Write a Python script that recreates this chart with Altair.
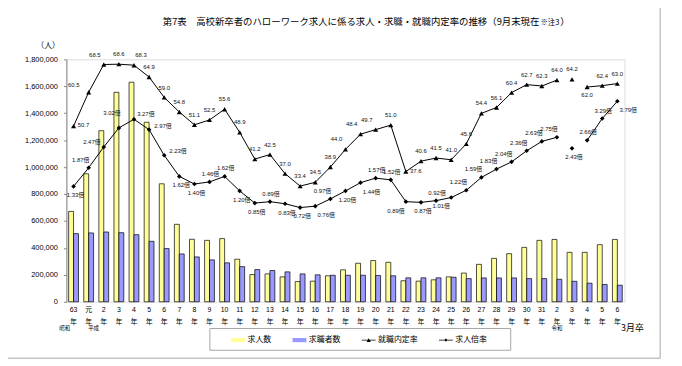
import altair as alt
import pandas as pd

# ---------------- data ----------------
eras = ["昭和", "平成", "平成", "平成", "平成", "平成", "平成", "平成", "平成", "平成",
        "平成", "平成", "平成", "平成", "平成", "平成", "平成", "平成", "平成", "平成",
        "平成", "平成", "平成", "平成", "平成", "平成", "平成", "平成", "平成", "平成",
        "平成", "平成", "令和", "令和", "令和", "令和", "令和"]
years = ["63", "元", "2", "3", "4", "5", "6", "7", "8", "9", "10", "11", "12", "13", "14",
         "15", "16", "17", "18", "19", "20", "21", "22", "23", "24", "25", "26", "27", "28",
         "29", "30", "31", "2", "3", "4", "5", "6"]

job_offers = [671000, 950000, 1270000, 1555000, 1630000, 1333000, 876000, 575000, 464000,
              456000, 469000, 316000, 202000, 207000, 185000, 150000, 153000, 193000, 237000,
              286000, 306000, 293000, 156000, 153000, 163000, 185000, 213000, 278000, 322000,
              357000, 404000, 456000, 463000, 367000, 367000, 424000, 463000]
job_seekers = [506000, 511000, 518000, 513000, 498000, 449000, 395000, 355000, 333000,
               311000, 289000, 261000, 239000, 232000, 222000, 207000, 200000, 197000, 197000,
               197000, 195000, 193000, 178000, 178000, 178000, 182000, 172000, 177000, 177000,
               177000, 172000, 172000, 167000, 152000, 138000, 128000, 123000]
rate = [50.7, 60.5, 68.5, 68.6, 68.3, 64.9, 59.0, 54.8, 51.1, 52.5, 55.6, 48.9, 41.2, 42.5,
        37.0, 33.4, 34.5, 38.9, 44.0, 48.4, 49.7, 51.0, 37.6, 40.6, 41.5, 41.0, 45.6, 54.4,
        56.1, 60.4, 62.7, 62.3, 64.0, 64.2, 62.0, 62.4, 63.0]
ratio = [1.33, 1.87, 2.47, 3.02, 3.27, 2.97, 2.23, 1.62, 1.40, 1.46, 1.62, 1.20, 0.85, 0.89,
         0.83, 0.72, 0.76, 0.97, 1.20, 1.44, 1.57, 1.52, 0.89, 0.87, 0.92, 1.01, 1.22, 1.59,
         1.83, 2.04, 2.36, 2.63, 2.75, 2.43, 2.66, 3.29, 3.79]
# line segments (the series is broken around 令和3年)
segment = [1] * 33 + [2] + [3] * 3

bar_series = ["求人数", "求職者数"]
legend_names = ["求人数", "求職者数", "就職内定率", "求人倍率"]

# label placement codes (styling)
rate_pos = ["r", "l", "tl", "t", "tr", "t", "t", "t", "t", "t", "t", "t", "t", "t", "t", "t",
            "t", "t", "tl", "tl", "tl", "t", "r", "t", "t", "t", "t", "t", "t", "t", "t", "t",
            "t", "t", "b", "t", "t"]
ratio_pos = ["b", "tl", "l", "tt", "tr", "r", "r", "b", "b", "t", "t", "b", "b", "t", "b", "b",
             "br", "tl", "b", "br", "t", "t", "bl", "b", "t", "bl", "tl", "tl", "tl", "tl", "tl",
             "tl", "tl", "b", "t", "t", "br"]

# ---------------- tables ----------------
keys = [e + y for e, y in zip(eras, years)]
n = len(keys)
bars_df = pd.DataFrame({
    "key": keys * 2,
    "series": [bar_series[0]] * n + [bar_series[1]] * n,
    "value": job_offers + job_seekers,
})
lines_df = pd.DataFrame({
    "key": keys, "idx": list(range(n)), "rate": rate, "ratio": ratio, "seg": segment,
    "rate_pos": rate_pos, "ratio_pos": ratio_pos,
})
year_df = pd.DataFrame({"key": keys, "year": years, "nen": ["年"] * n})

W, H = 564, 245
FONT = "Liberation Sans, Arial, Noto Sans CJK JP"
JP = "Noto Sans CJK JP"
GRAY = "#868686"

XSCALE = alt.Scale(type="band", domain=keys, paddingInner=0.35, paddingOuter=0.15)


def X(axis=None):
    return alt.X("key:N", scale=XSCALE, axis=axis, title=None)


x_axis = alt.Axis(labels=False, ticks=False, domainColor=GRAY, title=None, grid=False)

left_axis = alt.Axis(values=[0, 200000, 400000, 600000, 800000, 1000000, 1200000, 1400000,
                             1600000, 1800000],
                     format=",.0f", labelFont=FONT, labelFontSize=7.5, labelColor="black",
                     tickSize=3, tickColor=GRAY, domainColor=GRAY, grid=False, labelPadding=6,
                     title="（人）", titleAngle=0, titleX=-19, titleY=-14, titleFont=JP,
                     titleFontSize=8, titleFontWeight="normal", titleAlign="center",
                     titleBaseline="middle", titleColor="black")

right_axis = alt.Axis(orient="right", values=[0, 10, 20, 30, 40, 50, 60, 70], format=".1f",
                      labelFont=FONT, labelFontSize=8, labelColor="black", tickSize=3,
                      tickColor=GRAY, domainColor=GRAY, grid=False, labelPadding=4,
                      title="(%)", titleAngle=0, titleX=14, titleY=-14, titleFont=FONT,
                      titleFontSize=8.5, titleFontWeight="normal", titleAlign="center",
                      titleBaseline="middle", titleColor="black")

# ---------------- bars ----------------
bars = alt.Chart(bars_df).mark_bar(stroke="black", strokeWidth=0.7).encode(
    x=X(x_axis),
    xOffset=alt.XOffset("series:N", scale=alt.Scale(domain=bar_series)),
    y=alt.Y("value:Q", scale=alt.Scale(domain=[0, 1800000], nice=False, zero=True),
            axis=left_axis),
    color=alt.Color("series:N", scale=alt.Scale(domain=bar_series,
                                                range=["#FFFF99", "#9999FF"]), legend=None),
)

# x labels (two lines: number / 年)
year_lbl = alt.Chart(year_df).mark_text(align="center", baseline="middle", font=FONT,
                                        fontSize=7, color="black").encode(
    x=X(), y=alt.value(H + 8), text="year:N")
nen_lbl = alt.Chart(year_df).mark_text(align="center", baseline="middle", font=JP,
                                       fontSize=7, color="black").encode(
    x=X(), y=alt.value(H + 20), text="nen:N")

# ---------------- rate line (right axis) ----------------
RATE_OFF = {"t": (0, -10), "b": (0, 8), "r": (10, -1), "l": (-15, -7), "tl": (-9, -10),
            "tr": (7, -10)}
RATIO_OFF = {"t": (1, -8), "b": (2, 9), "r": (14, -4), "l": (-12, -5), "tl": (-8, -8),
             "tt": (-7, -15), "tr": (12, -5), "br": (11, 9), "bl": (-10, 9)}

base = alt.Chart(lines_df)


def rate_y(axis=None):
    return alt.Y("rate:Q", scale=alt.Scale(domain=[0, 70], nice=False, zero=True), axis=axis)


def ratio_y():
    return alt.Y("ratio:Q", scale=alt.Scale(domain=[-2, 5], nice=False, zero=False), axis=None)


rate_line = base.mark_line(color="black", strokeWidth=1).encode(
    x=X(), y=rate_y(right_axis), detail="seg:N", order="idx:Q")
rate_pts = base.mark_point(shape="triangle-up", filled=True, color="black", size=26,
                           opacity=1).encode(x=X(), y=rate_y())
rate_lbls = []
for code, (dx, dy) in RATE_OFF.items():
    rate_lbls.append(
        base.transform_filter(alt.datum.rate_pos == code)
        .mark_text(dx=dx, dy=dy, align="center", baseline="middle", font=FONT, fontSize=6,
                   color="#111111")
        .encode(x=X(), y=rate_y(), text=alt.Text("rate:Q", format=".1f"))
    )
rate_group = alt.layer(rate_line, rate_pts, *rate_lbls)

# ---------------- ratio line (hidden scale) ----------------
ratio_line = base.mark_line(color="black", strokeWidth=1).encode(
    x=X(), y=ratio_y(), detail="seg:N", order="idx:Q")
ratio_pts = base.mark_point(shape="diamond", filled=True, color="black", size=22,
                            opacity=1).encode(x=X(), y=ratio_y())
ratio_lbls = []
for code, (dx, dy) in RATIO_OFF.items():
    ratio_lbls.append(
        base.transform_filter(alt.datum.ratio_pos == code)
        .transform_calculate(lbl="format(datum.ratio, '.2f') + '倍'")
        .mark_text(dx=dx, dy=dy, align="center", baseline="middle", font=FONT, fontSize=6,
                   color="#111111")
        .encode(x=X(), y=ratio_y(), text="lbl:N")
    )
ratio_group = alt.layer(ratio_line, ratio_pts, *ratio_lbls)

# ---------------- legend ----------------
swatch = "M-1,-0.3H1V0.3H-1Z"
tri_line = "M-1,-0.04H1V0.04H-1ZM-0.3,0.26L0,-0.26L0.3,0.26Z"
dia_line = "M-1,-0.04H1V0.04H-1ZM-0.24,0L0,-0.24L0.24,0L0,0.24Z"
LEG = alt.Legend(orient="none", legendX=166, legendY=276, direction="horizontal",
                 title=None, labelFont=JP, labelFontSize=8, labelColor="black",
                 symbolSize=196, symbolOpacity=1, symbolStrokeColor="black",
                 symbolStrokeWidth=0.6, columnPadding=20, labelOffset=2, padding=0)
legend_layer = alt.Chart(pd.DataFrame({"name": legend_names})).mark_point(
    filled=True, opacity=0, stroke="black").encode(
    x=alt.value(0), y=alt.value(0),
    color=alt.Color("name:N", scale=alt.Scale(domain=legend_names,
                                              range=["#FFFF99", "#9999FF", "black", "black"]),
                    legend=LEG),
    shape=alt.Shape("name:N", scale=alt.Scale(domain=legend_names,
                                              range=[swatch, swatch, tri_line, dia_line]),
                    legend=LEG),
)

# ---------------- decorations ----------------
one = pd.DataFrame({"a": [1]})
frame = alt.Chart(one).mark_rect(fillOpacity=0, stroke="#A6A6A6", strokeWidth=1).encode(
    x=alt.value(-63), x2=alt.value(600), y=alt.value(-55), y2=alt.value(302))
legend_box = alt.Chart(one).mark_rect(fillOpacity=0, stroke="#A6A6A6", strokeWidth=1).encode(
    x=alt.value(145), x2=alt.value(449), y=alt.value(272), y2=alt.value(294))
title_main = alt.Chart(one).mark_text(align="right", baseline="middle", font=JP, fontSize=9.5,
                                      color="black").encode(
    x=alt.value(478), y=alt.value(-38),
    text=alt.value("第7表　高校新卒者のハローワーク求人に係る求人・求職・就職内定率の推移（9月末現在"))
title_note = alt.Chart(one).mark_text(align="left", baseline="middle", font=JP, fontSize=7.5,
                                      color="black").encode(
    x=alt.value(479), y=alt.value(-37), text=alt.value("※注3"))
title_end = alt.Chart(one).mark_text(align="left", baseline="middle", font=JP, fontSize=9.5,
                                     color="black").encode(
    x=alt.value(499), y=alt.value(-38), text=alt.value("）"))
grad_note = alt.Chart(one).mark_text(align="center", baseline="middle", font=JP, fontSize=9,
                                     color="black").encode(
    x=alt.value(572), y=alt.value(272), text=alt.value("3月卒"))

era_layers = []
for i, dx in [(0, -9), (1, 5), (32, 0)]:
    era_layers.append(
        alt.Chart(pd.DataFrame({"key": [keys[i]], "era": [eras[i]]}))
        .mark_text(align="center", baseline="middle", font=JP, fontSize=5.5, color="black",
                   dx=dx)
        .encode(x=X(), y=alt.value(H + 27), text="era:N")
    )

chart = alt.layer(
    frame, legend_box, bars, year_lbl, nen_lbl, rate_group, ratio_group, legend_layer,
    title_main, title_note, title_end, grad_note, *era_layers,
).resolve_scale(
    y="independent", color="independent", shape="independent"
).properties(
    width=W, height=H,
    autosize=alt.AutoSizeParams(type="none"),
    padding={"left": 59, "top": 50, "right": 50, "bottom": 60},
).configure_view(stroke=None).configure(background="white")

chart.save("out.html", embed_options={"renderer": "svg", "actions": False})
